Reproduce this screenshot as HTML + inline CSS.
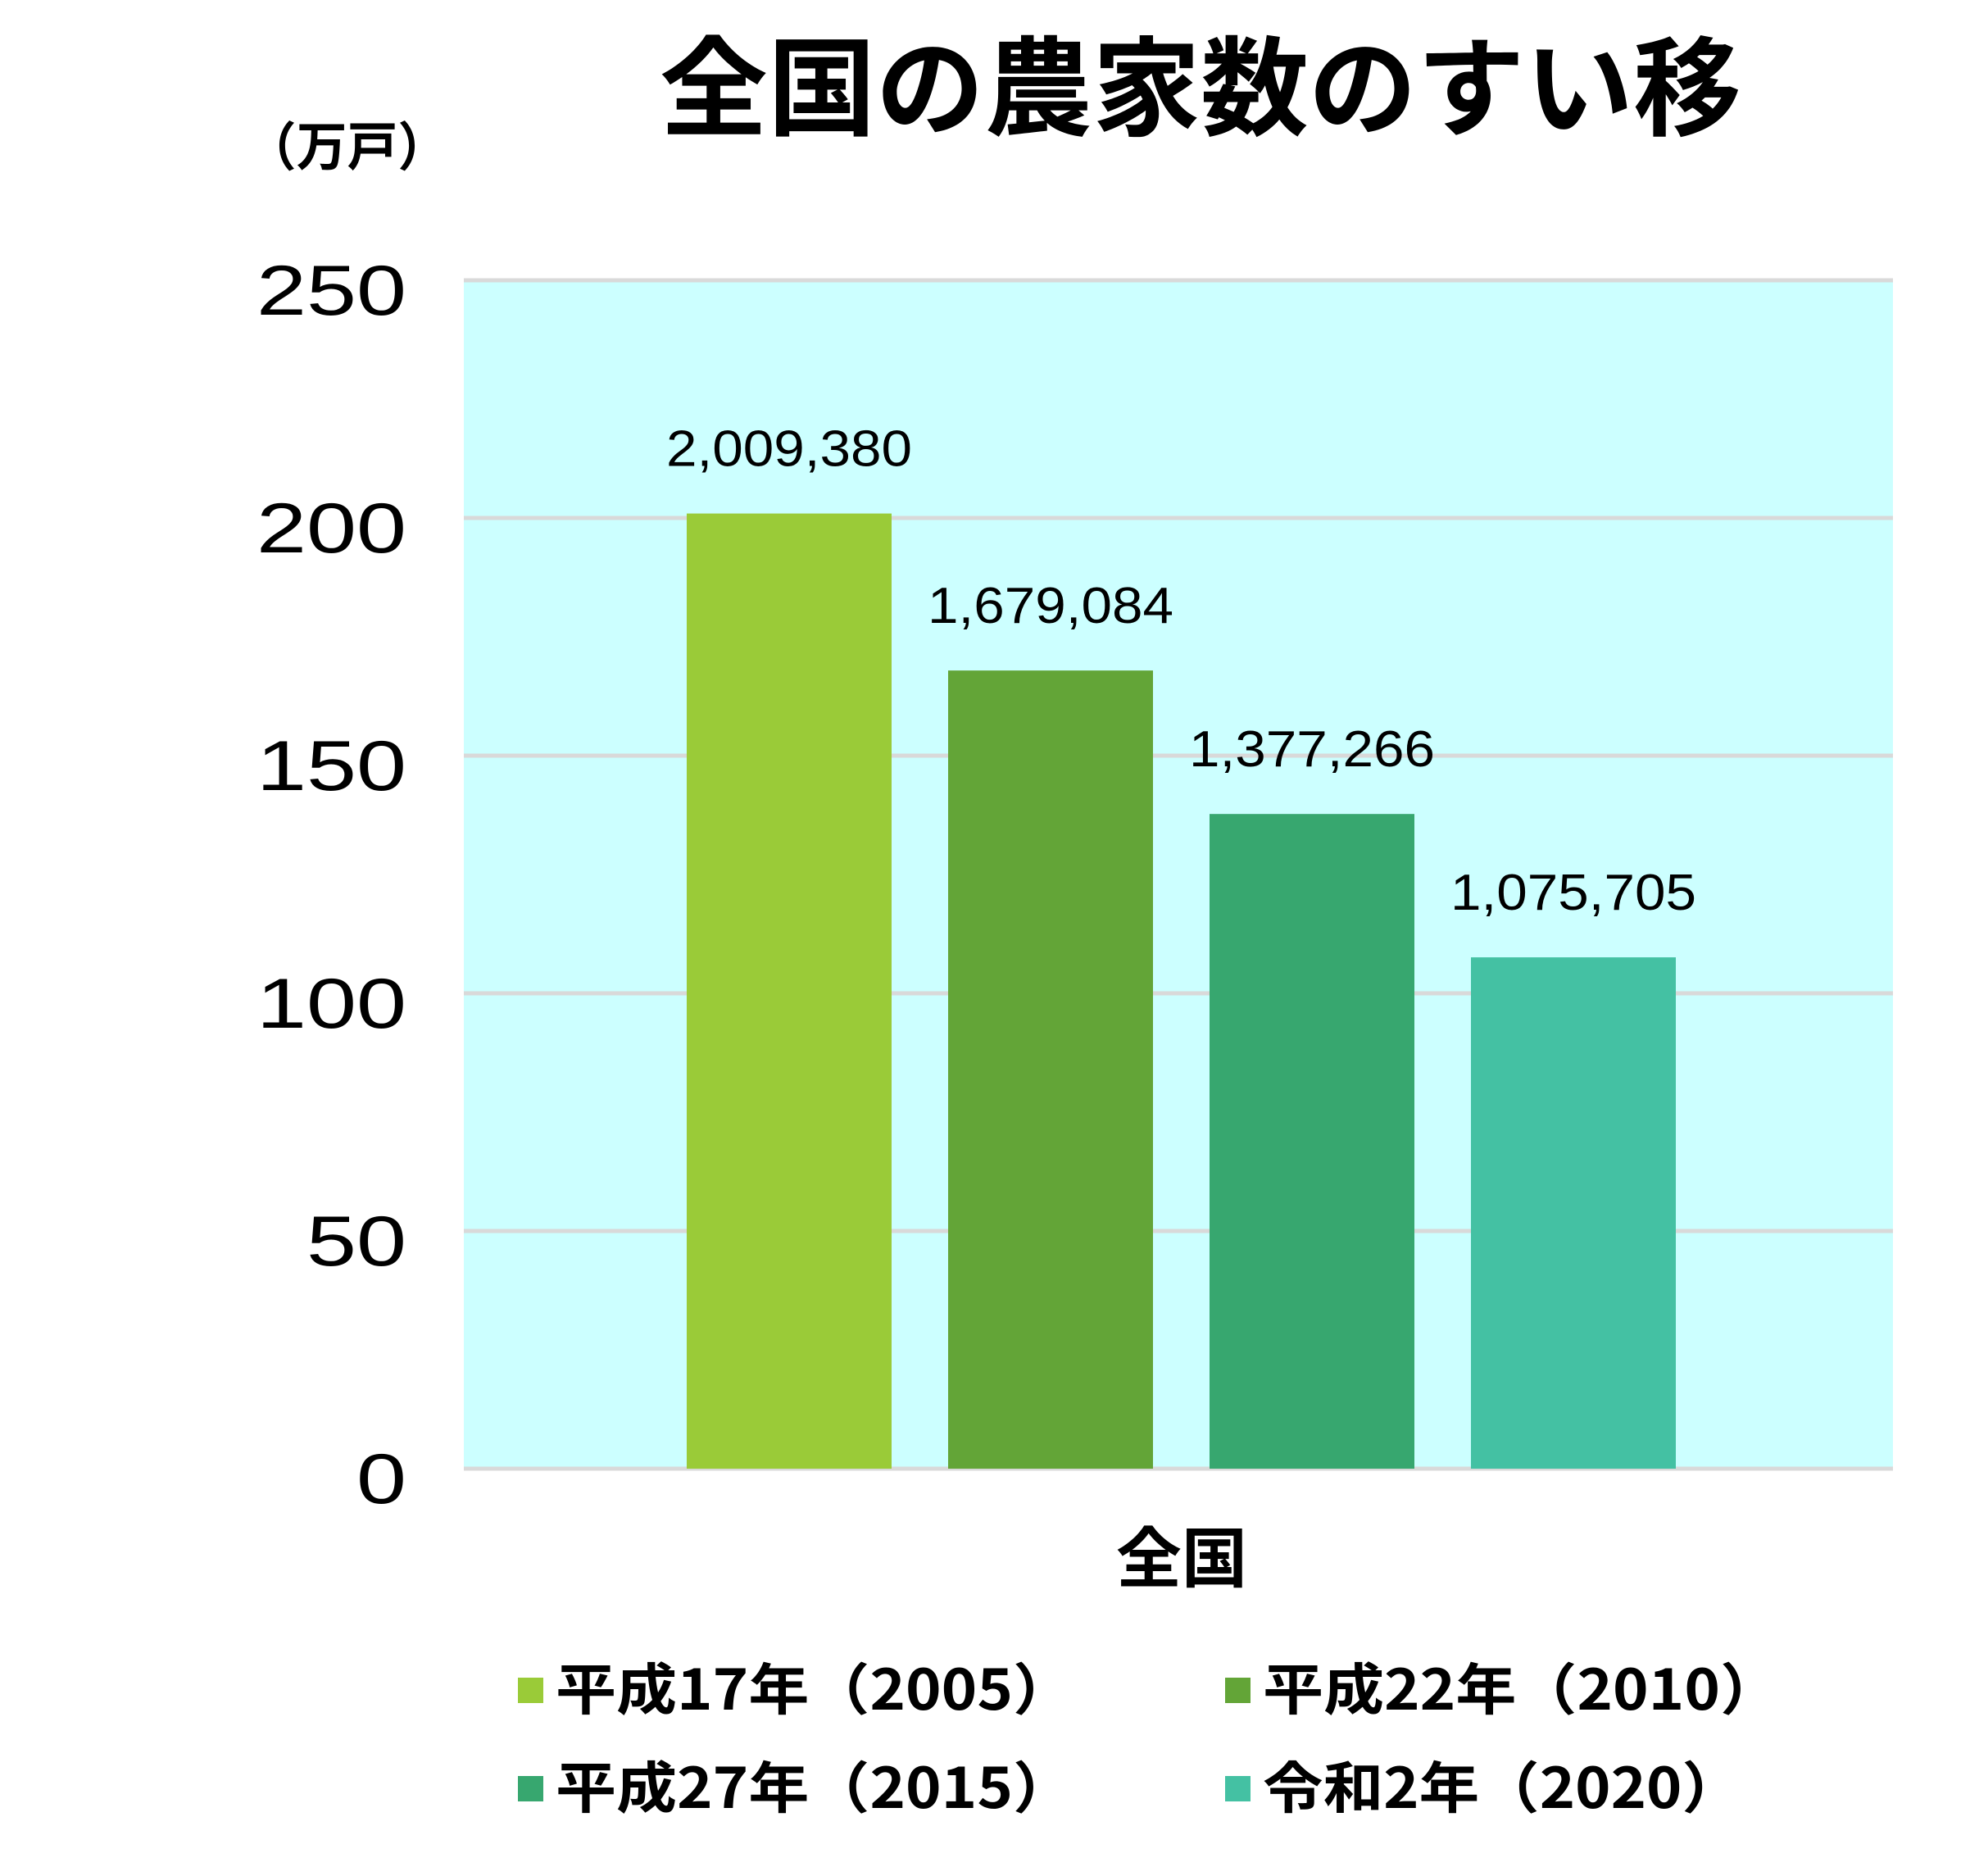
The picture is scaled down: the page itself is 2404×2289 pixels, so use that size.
<!DOCTYPE html>
<html><head><meta charset="utf-8"><style>
html,body{margin:0;padding:0;background:#fff;}
svg{display:block;font-family:"Liberation Sans","Noto Sans CJK JP",sans-serif;}
</style></head><body>
<svg id="chart" width="2404" height="2289" viewBox="0 0 2404 2289" xmlns="http://www.w3.org/2000/svg">
<rect x="0" y="0" width="2404" height="2289" fill="#fff"/>
<text x="1465" y="155" font-size="132" font-weight="bold" text-anchor="middle" font-family="'Noto Sans CJK JP',sans-serif">全国の農家数のすい移</text>
<text x="300" y="202" font-size="64" font-weight="bold" textLength="247" lengthAdjust="spacingAndGlyphs" font-family="'Noto Sans CJK JP',sans-serif">（万戸）</text>
<rect x="566" y="342" width="1744" height="1450" fill="#ccffff"/>
<g id="grid"></g>
<g id="bars"></g>
<g id="labels"></g>
<text x="1442" y="1930" font-size="80" font-weight="bold" text-anchor="middle" font-family="'Noto Sans CJK JP',sans-serif">全国</text>
<g id="legend"></g>
</svg>
<script>
const categories = ["平成17年(2005)", "平成22年(2010)", "平成27年(2015)", "令和2年(2020)"];
const legendLabels = ["平成17年（2005）", "平成22年（2010）", "平成27年（2015）", "令和2年（2020）"];
const values = [2009380, 1679084, 1377266, 1075705];
const valueLabels = ["2,009,380", "1,679,084", "1,377,266", "1,075,705"];
const yTicks = [0, 50, 100, 150, 200, 250];
const colors = ["#9acb38", "#63a537", "#37a76f", "#44c1a3"];

const NS = "http://www.w3.org/2000/svg";
const plotL = 566, plotR = 2310, plotT = 342, plotB = 1792, yMax = 250;
function y(v){ return plotB - (v / yMax) * (plotB - plotT); }
const groupL = 838, step = 319, barW = 250;
function x(i){ return groupL + i * step; }
function mk(tag, attrs, parent){ const e = document.createElementNS(NS, tag); for (const k in attrs) e.setAttribute(k, attrs[k]); parent.appendChild(e); return e; }

const grid = document.getElementById("grid");
yTicks.forEach(t => {
  const l = mk("line", {x1: plotL, x2: plotR, y1: y(t), y2: y(t), stroke: "#d9d9d9", "stroke-width": 5}, grid);
  
  
  const n = String(t).length;
  const tx = mk("text", {x: 496, y: y(t) + 42, "font-size": 86, "text-anchor": "end", fill: "#000", textLength: n * 61, lengthAdjust: "spacingAndGlyphs"}, grid);
  
  
  tx.textContent = t;
});

const bars = document.getElementById("bars");
const labels = document.getElementById("labels");
values.forEach((v, i) => {
  const vm = v / 10000;
  const r = mk("rect", {x: x(i), y: y(vm), width: barW, height: plotB - y(vm), fill: colors[i]}, bars);
  
  
  const t = mk("text", {x: x(i) + barW / 2, y: y(vm) - 58, "font-size": 62, "text-anchor": "middle", fill: "#000", textLength: 300, lengthAdjust: "spacingAndGlyphs"}, labels);
  
  
  t.textContent = valueLabels[i];
});

const legend = document.getElementById("legend");
const legX = [632, 1495], legY = [2062, 2182];
const legW = [632, 632, 632, 585];
legendLabels.forEach((lab, i) => {
  const lx = legX[i % 2], ly = legY[Math.floor(i / 2)];
  const g = mk("g", {}, legend);
  
  
  const s = mk("rect", {x: lx, y: ly - 15, width: 31, height: 31, fill: colors[i]}, g);
  
  
  const t = mk("text", {x: lx + 46, y: ly + 24, "font-size": 68, "font-weight": "bold", fill: "#000", "font-family": "'Noto Sans CJK JP',sans-serif", textLength: legW[i], lengthAdjust: "spacingAndGlyphs"}, g);
  
  
  t.textContent = lab;
});
</script>
</body></html>
